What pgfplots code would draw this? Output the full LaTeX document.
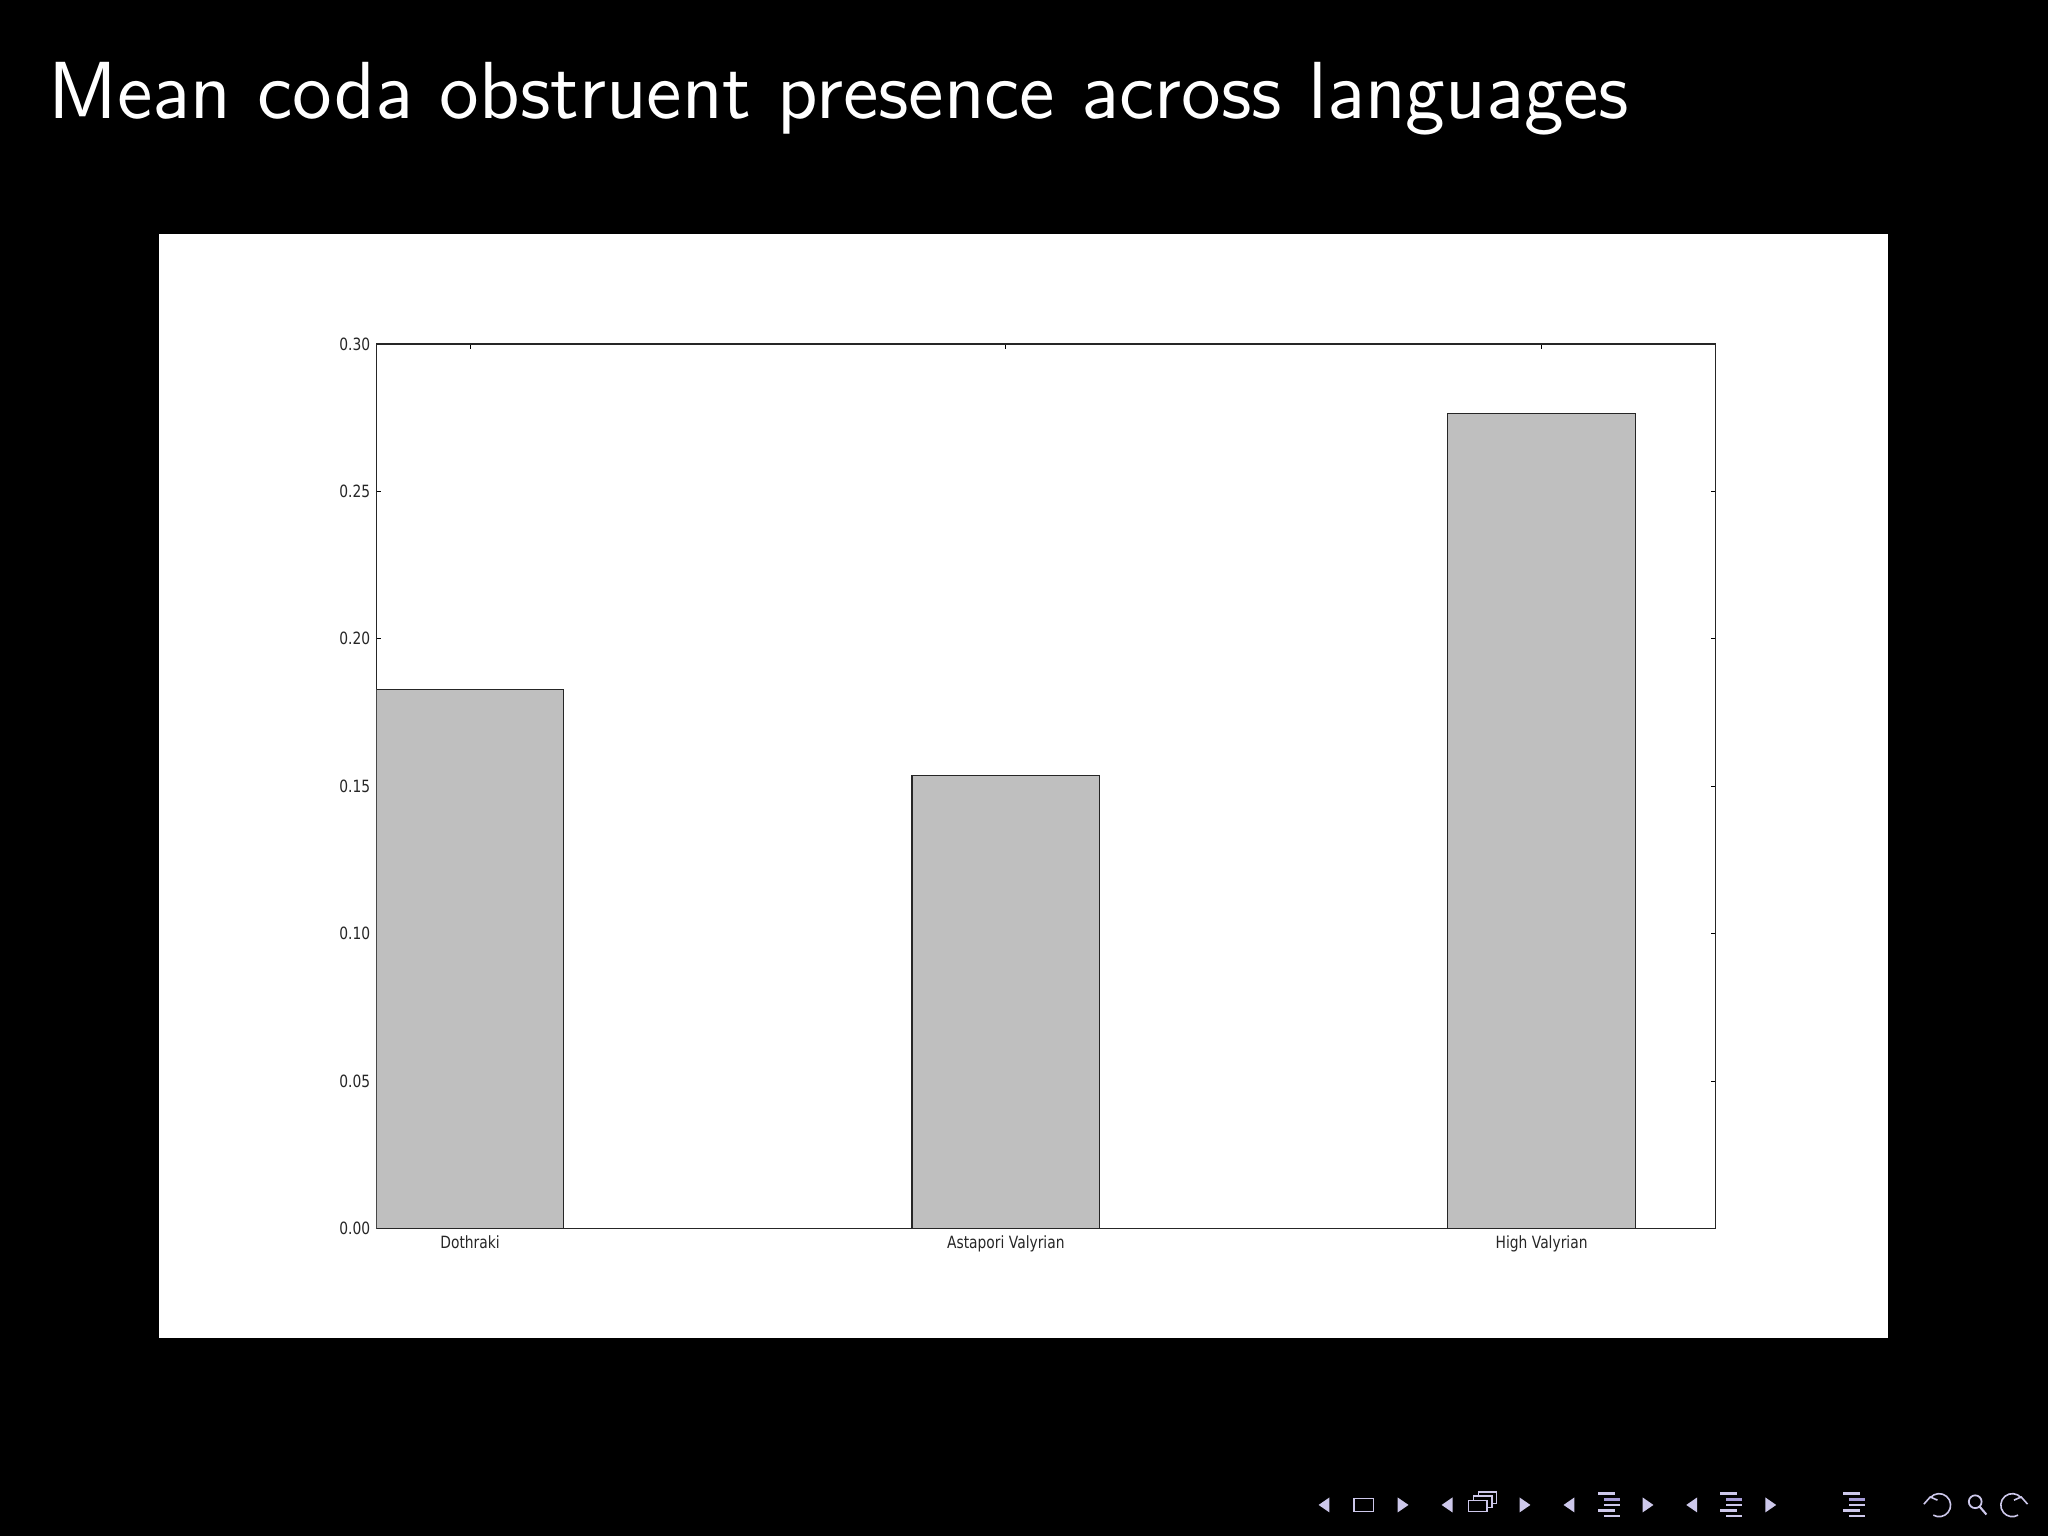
\documentclass[border=0pt]{standalone}
\usepackage{pgfplots}
\pgfplotsset{compat=1.18}
\usepackage{fontspec}
\newfontfamily\tickfont[FakeStretch=0.82]{DejaVu Sans}
\definecolor{barfill}{RGB}{191,191,191}
\definecolor{navcol}{RGB}{205,200,235}
\definecolor{navdark}{RGB}{165,155,215}
\begin{document}
\begin{tikzpicture}[x=1mm,y=1mm]
\path[use as bounding box] (0,0) rectangle (128,96);
\fill[black] (0,0) rectangle (128,96);
% title
\node[anchor=base west, inner sep=0pt, text=white, font=\fontsize{14.4}{17}\sffamily] at (2.97,88.6) {Mean coda obstruent presence across languages};
% white image panel
\fill[white] (9.94,12.37) rectangle (118.0,81.37);
\begin{axis}[
  at={(23.52mm,19.21mm)}, anchor=south west,
  scale only axis, width=83.71mm, height=55.29mm,
  xmin=0, xmax=2.5, ymin=0, ymax=0.3,
  xtick={0.175,1.175,2.175},
  xticklabels={Dothraki,Astapori Valyrian,High Valyrian},
  ytick={0,0.05,0.10,0.15,0.20,0.25,0.30},
  /pgf/number format/assume math mode=true,
  ticklabel style={font=\fontsize{3.0}{3.6}\tickfont, text=black!85},
  xticklabel style={inner sep=0pt, anchor=north, yshift=-0.37mm},
  yticklabel style={inner sep=0pt, anchor=east, xshift=-0.31mm,
    /pgf/number format/fixed, /pgf/number format/fixed zerofill,
    /pgf/number format/precision=2},
  tick align=inside, major tick length=0.29mm,
  tick style={line width=0.05mm, black},
  axis line style={line width=0.08mm, black!85},
  axis background/.style={fill=white},
]
\addplot[ybar, bar width=0.35, bar shift=0pt, fill=barfill, draw=black!85, line width=0.08mm]
  coordinates {(0.175,0.1829) (1.175,0.1536) (2.175,0.2764)};
\end{axis}
% beamer navigation symbols
\begin{scope}[navcol]
\def\ny{1.94}
\foreach \cx/\dir in {82.75/-1,87.69/1,90.44/-1,95.31/1,98.06/-1,103.0/1,105.73/-1,110.67/1}{
  \fill (\cx+\dir*0.34,\ny) -- (\cx-\dir*0.34,\ny+0.47) -- (\cx-\dir*0.34,\ny-0.47) -- cycle;
}
\draw[line width=0.1mm] (85.23-0.6,\ny-0.4) rectangle (85.23+0.6,\ny+0.4);
\draw[line width=0.09mm, fill=black] (92.69-0.3,\ny+0.1) rectangle (92.69+0.85,\ny+0.8);
\draw[line width=0.09mm, fill=black] (92.69-0.6,\ny-0.15) rectangle (92.69+0.55,\ny+0.55);
\draw[line width=0.09mm, fill=black] (92.69-0.9,\ny-0.42) rectangle (92.69+0.25,\ny+0.28);
\foreach \lx in {100.54,108.19,115.86}{
  \fill (\lx-0.68,\ny+0.62) rectangle (\lx+0.38,\ny+0.78);
  \fill[navdark] (\lx-0.32,\ny+0.27) rectangle (\lx+0.68,\ny+0.43);
  \fill (\lx-0.32,\ny-0.08) rectangle (\lx+0.68,\ny+0.08);
  \fill (\lx-0.68,\ny-0.43) rectangle (\lx+0.38,\ny-0.27);
  \fill (\lx-0.32,\ny-0.78) rectangle (\lx+0.68,\ny-0.62);
}
% undo
\draw[line width=0.1mm] (121.19-0.55,\ny+0.45) arc (140:-120:0.72);
\draw[line width=0.1mm] (121.19-0.95,\ny+0.05) -- (121.19-0.55,\ny+0.5) -- (121.19-0.1,\ny+0.3);
% search
\draw[line width=0.11mm] (123.45,\ny+0.2) circle (0.4);
\draw[line width=0.13mm] (123.72,\ny-0.1) -- (124.15,\ny-0.6);
% redo
\draw[line width=0.1mm] (125.77+0.55,\ny+0.45) arc (40:300:0.72);
\draw[line width=0.1mm] (125.77+0.95,\ny+0.05) -- (125.77+0.55,\ny+0.5) -- (125.77+0.1,\ny+0.3);
\end{scope}
\end{tikzpicture}
\end{document}
